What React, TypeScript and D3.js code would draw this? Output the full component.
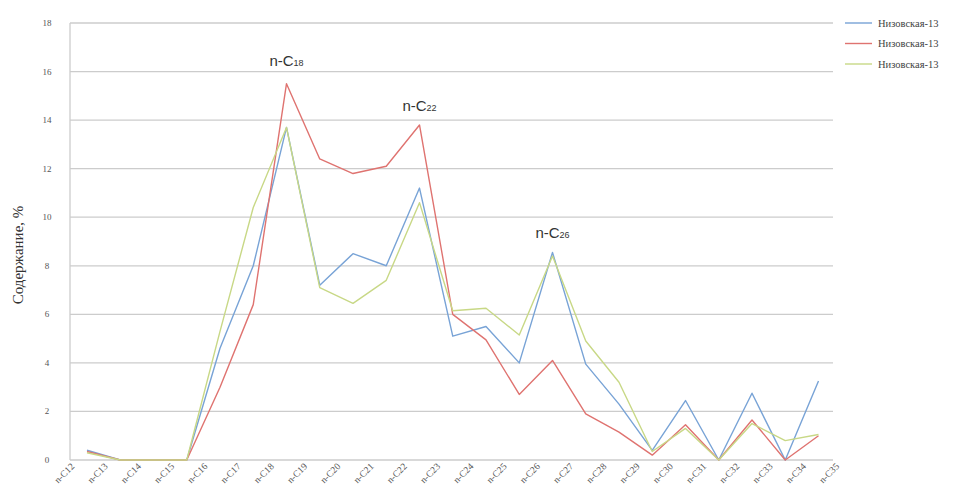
import React, { useRef, useEffect } from 'react';
import * as d3 from 'd3';

const categories = ['n-C12', 'n-C13', 'n-C14', 'n-C15', 'n-C16', 'n-C17', 'n-C18', 'n-C19', 'n-C20', 'n-C21', 'n-C22', 'n-C23',
  'n-C24', 'n-C25', 'n-C26', 'n-C27', 'n-C28', 'n-C29', 'n-C30', 'n-C31', 'n-C32', 'n-C33', 'n-C34', 'n-C35'];

// C12 .. C34 (no value for C35)
const blueValues = [0.4, 0, 0, 0, 4.6, 8.0, 13.7, 7.2, 8.5, 8.0, 11.2, 5.1, 5.5, 4.0, 8.55, 3.95, 2.3, 0.4, 2.45, 0, 2.75, 0, 3.25];
const redValues = [0.35, 0, 0, 0, 3.0, 6.4, 15.5, 12.4, 11.8, 12.1, 13.8, 6.0, 4.95, 2.7, 4.1, 1.9, 1.15, 0.2, 1.45, 0, 1.65, 0, 1.0];
const greenValues = [0.3, 0, 0, 0, 5.3, 10.4, 13.7, 7.1, 6.45, 7.4, 10.6, 6.15, 6.25, 5.15, 8.4, 4.9, 3.2, 0.35, 1.3, 0, 1.5, 0.8, 1.05];

const seriesNames = ['Низовская-13', 'Низовская-13', 'Низовская-13'];
const seriesColors = ['#78a3d6', '#df7370', '#c8d886'];
const yTicks = [0, 2, 4, 6, 8, 10, 12, 14, 16, 18];

const peaks = [
  { cat: 'n-C18', value: 15.5, sub: '18', dy: -18 },
  { cat: 'n-C22', value: 13.8, sub: '22', dy: -14 },
  { cat: 'n-C26', value: 8.55, sub: '26', dy: -14 },
];

const Chart = () => {
  const ref = useRef<SVGSVGElement>(null);

  useEffect(() => {
    const svg = d3.select(ref.current);
    svg.selectAll('*').remove();

    const left = 70;
    const right = 833;
    const top = 23;
    const bottom = 460;

    const x = d3.scalePoint<string>()
      .domain(categories)
      .range([87, 87 + 23 * 33.25]);

    const y = d3.scaleLinear()
      .domain([0, 18])
      .range([bottom, top]);

    // grid
    svg.append('g')
      .selectAll('line')
      .data(yTicks)
      .join('line')
      .attr('x1', left)
      .attr('x2', right)
      .attr('y1', d => y(d))
      .attr('y2', d => y(d))
      .attr('stroke', '#cccccc')
      .attr('stroke-width', 1.3);

    // y axis line
    svg.append('line')
      .attr('x1', left).attr('x2', left)
      .attr('y1', top).attr('y2', bottom)
      .attr('stroke', '#cccccc')
      .attr('stroke-width', 1.3);

    // y tick labels
    svg.append('g')
      .selectAll('text')
      .data(yTicks)
      .join('text')
      .attr('x', 47)
      .attr('y', d => y(d) + 3)
      .attr('text-anchor', 'middle')
      .attr('font-family', '"Liberation Serif", serif')
      .attr('font-size', 9)
      .attr('fill', '#555')
      .text(d => d);

    // y title
    svg.append('text')
      .attr('transform', 'translate(23,255) rotate(-90)')
      .attr('text-anchor', 'middle')
      .attr('font-family', '"Liberation Serif", serif')
      .attr('font-size', 15)
      .attr('fill', '#333')
      .text('Содержание, %');

    // x tick labels
    svg.append('g')
      .selectAll('text')
      .data(categories)
      .join('text')
      .attr('transform', d => `translate(${(x(d) as number) - 12},${bottom + 7}) rotate(-45)`)
      .attr('text-anchor', 'end')
      .attr('font-family', '"Liberation Serif", serif')
      .attr('font-size', 9.5)
      .attr('fill', '#555')
      .text(d => d);

    // lines
    const line = d3.line<number>()
      .x((d, i) => x(categories[i]) as number)
      .y(d => y(d));

    [blueValues, redValues, greenValues].forEach((vals, i) => {
      svg.append('path')
        .datum(vals)
        .attr('d', line)
        .attr('fill', 'none')
        .attr('stroke', seriesColors[i])
        .attr('stroke-width', 1.4)
        .attr('stroke-linejoin', 'round');
    });

    // peak annotations
    const ann = svg.append('g')
      .selectAll('text')
      .data(peaks)
      .join('text')
      .attr('x', d => x(d.cat) as number)
      .attr('y', d => y(d.value) + d.dy)
      .attr('text-anchor', 'middle')
      .attr('font-family', '"Liberation Sans", Arial, sans-serif')
      .attr('font-size', 15)
      .attr('fill', '#333');
    ann.append('tspan').text('n-C');
    ann.append('tspan').attr('font-size', 9).text(d => d.sub);

    // legend
    const legend = svg.append('g')
      .selectAll('g')
      .data(seriesNames)
      .join('g')
      .attr('transform', (d, i) => `translate(845,${23 + i * 20.5})`);
    legend.append('line')
      .attr('x1', 0).attr('x2', 27)
      .attr('stroke', (d, i) => seriesColors[i])
      .attr('stroke-width', 1.4);
    legend.append('text')
      .attr('x', 33)
      .attr('y', 3.5)
      .attr('font-family', '"Liberation Serif", serif')
      .attr('font-size', 10.5)
      .attr('fill', '#444')
      .text(d => d);
  }, []);

  return <svg ref={ref} width={967} height={495} style={{ position: 'absolute', left: 0, top: 0, background: '#fff' }}></svg>;
};

export default function App() {
  return <Chart />;
}
